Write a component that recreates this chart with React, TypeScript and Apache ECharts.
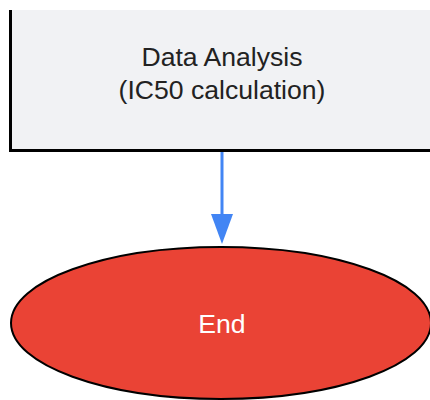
import React, { useEffect, useRef } from "react";
import * as echarts from "echarts";

const nodeLabels = ["Data Analysis\n(IC50 calculation)", "End"];
const nodeColors = ["#f1f2f4", "#ea4335"];
const textColors = ["#222222", "#ffffff"];
const edgeColor = "#4285f4";

export default function App() {
  const ref = useRef<HTMLDivElement>(null);
  useEffect(() => {
    if (!ref.current) return;
    const chart = echarts.init(ref.current, undefined, { renderer: "svg" });
    chart.setOption({
      animation: false,
      backgroundColor: "#ffffff",
      graphic: [
        {
          type: "rect",
          shape: { x: 10, y: 10, width: 440, height: 140 },
          style: { fill: nodeColors[0] },
        },
        {
          type: "polyline",
          shape: { points: [[10.5, 10], [10.5, 150.5], [450, 150.5]] },
          style: { stroke: "#000", lineWidth: 3, fill: null },
        },
        {
          type: "text",
          x: 222,
          y: 73,
          style: {
            text: nodeLabels[0],
            fill: textColors[0],
            font: "26.6px 'Liberation Sans', Arial, sans-serif",
            lineHeight: 33,
            align: "center",
            verticalAlign: "middle",
          },
        },
        {
          type: "line",
          shape: { x1: 222, y1: 152, x2: 222, y2: 216 },
          style: { stroke: edgeColor, lineWidth: 3 },
        },
        {
          type: "polygon",
          shape: { points: [[211, 214], [233, 214], [222, 244]] },
          style: { fill: edgeColor },
        },
        {
          type: "ellipse",
          shape: { cx: 221, cy: 323, rx: 210, ry: 76 },
          style: { fill: nodeColors[1], stroke: "#000", lineWidth: 2 },
        },
        {
          type: "text",
          x: 222,
          y: 324,
          style: {
            text: nodeLabels[1],
            fill: textColors[1],
            font: "26.6px 'Liberation Sans', Arial, sans-serif",
            align: "center",
            verticalAlign: "middle",
          },
        },
      ],
    });
    return () => chart.dispose();
  }, []);
  return (
    <div
      ref={ref}
      style={{ position: "absolute", left: 0, top: 0, width: 430, height: 400 }}
    />
  );
}
